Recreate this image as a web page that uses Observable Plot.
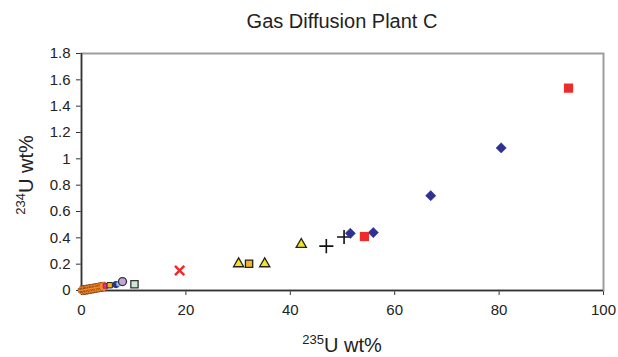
<!DOCTYPE html>
<html><head><meta charset="utf-8">
<script src="https://cdn.jsdelivr.net/npm/d3@7"></script>
<script src="https://cdn.jsdelivr.net/npm/@observablehq/plot@0.6"></script>
<style>
body{margin:0;background:#fff;font-family:Arial,"Liberation Sans",sans-serif;overflow:hidden;}
#title{width:552px;padding-left:66px;padding-top:11px;height:29px;text-align:center;font-size:20px;line-height:20px;color:#222;}
</style></head><body>
<div id="title">Gas Diffusion Plant C</div>
<div id="chart"></div>
<script>
// Axis ticks
const xTicks = [0, 20, 40, 60, 80, 100];
const yTicks = [0, 0.2, 0.4, 0.6, 0.8, 1.0, 1.2, 1.4, 1.6, 1.8];

// Series (235U wt%, 234U wt%)
const diamondX = [51.5, 55.9, 66.9, 80.4];
const diamondY = [0.434, 0.44, 0.72, 1.083];
const redSquareX = [54.2, 93.3];
const redSquareY = [0.41, 1.537];
const plusX = [46.9, 50.3];
const plusY = [0.337, 0.406];
const triangleX = [30.1, 35.1, 42.1];
const triangleY = [0.203, 0.203, 0.35];
const goldSquareX = [32.1];
const goldSquareY = [0.203];
const smallGoldX = [5.4];
const smallGoldY = [0.04];
const starX = [18.8];
const starY = [0.152];
const orangeX = [0.2, 0.5, 0.7, 0.9, 1.2, 1.4, 1.7, 2.0, 2.3, 2.6, 2.9, 3.2, 3.6, 3.9, 4.2];
const orangeY = [0.003, 0.004, 0.006, 0.005, 0.008, 0.01, 0.012, 0.013, 0.016, 0.018, 0.02, 0.022, 0.025, 0.028, 0.03];
const magentaX = [4.6];
const magentaY = [0.035];
const navyDotX = [6.6];
const navyDotY = [0.045];
const lightBlueX = [7.1];
const lightBlueY = [0.05];
const purpleX = [7.85];
const purpleY = [0.068];
const greenSquareX = [10.15];
const greenSquareY = [0.047];

const rows = (xs, ys) => xs.map((x, i) => ({x, y: ys[i]}));

const plot = Plot.plot({
  width: 618,
  height: 317,
  marginTop: 13,
  marginBottom: 67,
  marginLeft: 81,
  marginRight: 15,
  style: {fontSize: "15px", fontFamily: "Arial, 'Liberation Sans', sans-serif", color: "#222", background: "#fff"},
  x: {domain: [0, 100], ticks: xTicks, tickSize: 5, tickPadding: 9, label: null},
  y: {domain: [0, 1.8], ticks: yTicks, tickSize: 5, tickPadding: 6, label: null,
      tickFormat: d => String(+d.toFixed(1))},
  marks: [
    Plot.frame({stroke: "#9a9da0", strokeWidth: 2}),
    Plot.ruleX([0], {stroke: "#333", strokeWidth: 1.5}),
    Plot.ruleY([0], {stroke: "#333", strokeWidth: 1.5}),
    Plot.dot(rows(orangeX, orangeY), {x: "x", y: "y", r: 4.5, fill: "#f5892a", stroke: "#6b3310", strokeWidth: 0.8, strokeDasharray: "2,1.5"}),
    Plot.dot(rows(magentaX, magentaY), {x: "x", y: "y", symbol: "square", r: 2.6, fill: "#e8308a", stroke: "#b0206a", strokeWidth: 1}),
    Plot.dot(rows(navyDotX, navyDotY), {x: "x", y: "y", r: 2.8, fill: "#2e3192", stroke: "#2e3192"}),
    Plot.dot(rows(lightBlueX, lightBlueY), {x: "x", y: "y", r: 2.4, fill: "#8fd0ef", stroke: "#4a90b0", strokeWidth: 0.8}),
    Plot.dot(rows(purpleX, purpleY), {x: "x", y: "y", r: 4, fill: "#c9a3dc", stroke: "#333", strokeWidth: 1.3}),
    Plot.dot(rows(greenSquareX, greenSquareY), {x: "x", y: "y", symbol: "square", r: 4.1, fill: "#cce9d8", stroke: "#333", strokeWidth: 1.3}),
    Plot.dot(rows(smallGoldX, smallGoldY), {x: "x", y: "y", symbol: "square", r: 3, fill: "#f6b51c", stroke: "#222", strokeWidth: 1}),
    Plot.dot(rows(goldSquareX, goldSquareY), {x: "x", y: "y", symbol: "square", r: 4.1, fill: "#f6b51c", stroke: "#222", strokeWidth: 1.3}),
    Plot.dot(rows(triangleX, triangleY), {x: "x", y: "y", symbol: "triangle", r: 3.8, fill: "#f3e41c", stroke: "#222", strokeWidth: 1.3}),
    Plot.dot(rows(starX, starY), {x: "x", y: "y", symbol: "times", r: 4.3, stroke: "#ee2a2a", strokeWidth: 2.5}),
    Plot.dot(rows(plusX, plusY), {x: "x", y: "y", symbol: "plus", r: 4.6, stroke: "#111", strokeWidth: 1.6}),
    Plot.dot(rows(diamondX, diamondY), {x: "x", y: "y", symbol: "diamond2", r: 4.6, fill: "#2e3192", stroke: "#2e3192", strokeWidth: 0.6}),
    Plot.dot(rows(redSquareX, redSquareY), {x: "x", y: "y", symbol: "square", r: 5.2, fill: "#ee2a2a", stroke: "none"})
  ]
});

const svg = d3.select(plot);
svg.selectAll("[aria-label$='tick'] path, [aria-label$='tick']").attr("stroke", "#333");
const xl = svg.append("text").attr("x", 342).attr("y", 312).attr("text-anchor", "middle")
  .attr("font-size", 20).attr("fill", "#222");
xl.append("tspan").attr("font-size", 13).attr("dy", -8).text("235");
xl.append("tspan").attr("dy", 8).text("U wt%");
const yl = svg.append("text").attr("transform", "translate(33,135) rotate(-90)").attr("text-anchor", "middle")
  .attr("font-size", 20).attr("fill", "#222");
yl.append("tspan").attr("font-size", 13).attr("dy", -8).text("234");
yl.append("tspan").attr("dy", 8).text("U wt%");

document.getElementById("chart").appendChild(plot);
</script>
</body></html>
